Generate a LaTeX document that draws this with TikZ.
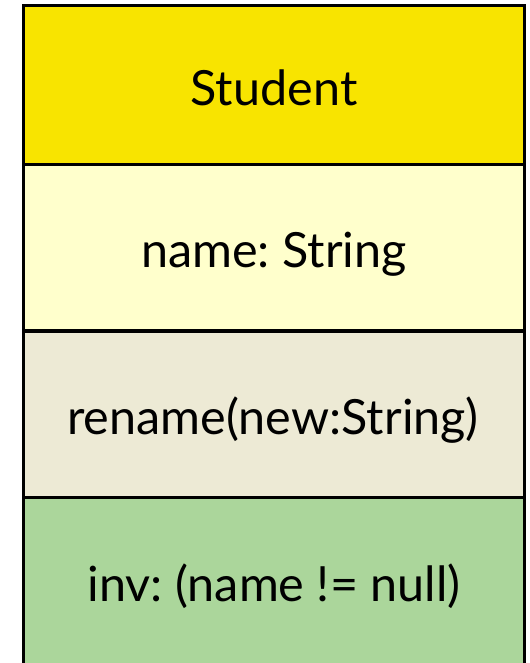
\documentclass[tikz,border=0pt]{standalone}
\usepackage{fontspec}
\setmainfont{Lato}
\frenchspacing
\definecolor{cHead}{HTML}{F8E400}
\definecolor{cAttr}{HTML}{FFFFCC}
\definecolor{cOp}{HTML}{EDEAD5}
\definecolor{cInv}{HTML}{ABD69B}
\begin{document}
\begin{tikzpicture}[x=0.75pt,y=-0.75pt,
  sect/.style={draw=black,line width=2.4pt},
  lbl/.style={font=\fontsize{36.4}{42}\selectfont,inner sep=0pt}]
\useasboundingbox (0,0) rectangle (529,663);
\fill[cHead] (23.5,5.5) rectangle (524.5,164.5);
\fill[cAttr] (23.5,164.5) rectangle (524.5,331);
\fill[cOp] (23.5,331) rectangle (524.5,497.5);
\fill[cInv] (23.5,497.5) rectangle (524.5,670);
\draw[sect] (23.5,670) -- (23.5,5.5) -- (524.5,5.5) -- (524.5,670);
\draw[sect] (23.5,164.5) -- (524.5,164.5);
\draw[sect] (23.5,331) -- (524.5,331);
\draw[sect] (23.5,497.5) -- (524.5,497.5);
\node[lbl] (head) at (274,88) {Student};
\node[lbl] (attr) at (274,254) {name: String};
\node[lbl] (op) at (273,420) {rename(new:String)};
\node[lbl] (inv) at (274,586) {inv: (name != null)};
\end{tikzpicture}
\end{document}
